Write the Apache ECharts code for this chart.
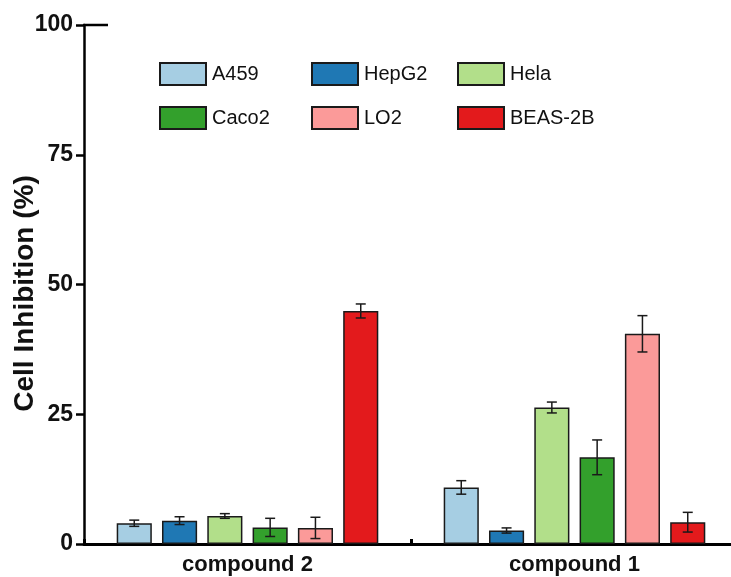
<!DOCTYPE html>
<html>
<head>
<meta charset="utf-8">
<script src="https://cdn.jsdelivr.net/npm/echarts@6/dist/echarts.min.js"></script>
<style>
html,body{margin:0;padding:0;background:#fff;}
#chart{width:731px;height:577px;}
</style>
</head>
<body>
<div id="chart"></div>
<script>
var categories = ['compound 2', 'compound 1'];
var seriesNames = ['A459', 'HepG2', 'Hela', 'Caco2', 'LO2', 'BEAS-2B'];
var seriesColors = ['#a6cee3', '#1f78b4', '#b2df8a', '#33a02c', '#fb9a99', '#e31a1c'];
var A459 = [4.0, 10.9];
var A459Err = [0.6, 1.3];
var HepG2 = [4.5, 2.6];
var HepG2Err = [0.75, 0.5];
var Hela = [5.4, 26.3];
var HelaErr = [0.45, 1.05];
var Caco2 = [3.2, 16.7];
var Caco2Err = [1.75, 3.35];
var LO2 = [3.1, 40.5];
var LO2Err = [2.05, 3.5];
var BEAS2B = [44.9, 4.2];
var BEAS2BErr = [1.35, 1.9];
var yTicks = [0, 25, 50, 75, 100];

var means = [A459, HepG2, Hela, Caco2, LO2, BEAS2B];
var errs = [A459Err, HepG2Err, HelaErr, Caco2Err, LO2Err, BEAS2BErr];

var CAT_GAP = 0.2, BAR_GAP = 0.29, N = seriesNames.length;
var FONT = 'Liberation Sans, Arial, sans-serif';

var series = [];
seriesNames.forEach(function (name, i) {
  series.push({
    name: name,
    type: 'bar',
    data: means[i],
    barCategoryGap: '20%',
    barGap: '29%',
    itemStyle: { color: seriesColors[i], borderColor: '#1a1a1a', borderWidth: 1.5 },
    z: 2
  });
});
seriesNames.forEach(function (name, i) {
  series.push({
    name: name + ' err',
    type: 'custom',
    z: 5,
    data: means[i].map(function (m, k) { return [k, m, errs[i][k]]; }),
    encode: { x: 0, y: 1 },
    renderItem: function (params, api) {
      var k = api.value(0), m = api.value(1), e = api.value(2);
      var band = api.size([1, 0])[0];
      var usable = band * (1 - CAT_GAP);
      var bw = usable / (N + (N - 1) * BAR_GAP);
      var off = -usable / 2 + bw / 2 + i * bw * (1 + BAR_GAP);
      var top = api.coord([k, m + e]);
      var bot = api.coord([k, m - e]);
      var x = top[0] + off;
      var cap = 5;
      var st = { stroke: '#1a1a1a', lineWidth: 1.5 };
      return {
        type: 'group',
        children: [
          { type: 'line', shape: { x1: x, y1: top[1], x2: x, y2: bot[1] }, style: st },
          { type: 'line', shape: { x1: x - cap, y1: top[1], x2: x + cap, y2: top[1] }, style: st },
          { type: 'line', shape: { x1: x - cap, y1: bot[1], x2: x + cap, y2: bot[1] }, style: st }
        ]
      };
    }
  });
});

function legendCol(names, left) {
  return {
    orient: 'vertical',
    left: left,
    top: 62,
    padding: 0,
    itemWidth: 46,
    itemHeight: 22,
    itemGap: 20,
    icon: 'rect',
    data: names,
    textStyle: { fontFamily: FONT, fontSize: 20, color: '#111', padding: [0, 0, 0, 1] }
  };
}

var chart = echarts.init(document.getElementById('chart'), null, { renderer: 'canvas' });
chart.setOption({
  animation: false,
  backgroundColor: '#fff',
  grid: { left: 84, top: 25, width: 654, height: 519, containLabel: false, outerBoundsMode: 'none' },
  legend: [
    legendCol([seriesNames[0], seriesNames[3]], 159),
    legendCol([seriesNames[1], seriesNames[4]], 311),
    legendCol([seriesNames[2], seriesNames[5]], 457)
  ],
  xAxis: {
    type: 'category',
    data: categories,
    axisLine: { lineStyle: { color: '#000', width: 3 } },
    axisTick: { show: true, inside: true, length: 5, lineStyle: { color: '#000', width: 3 } },
    axisLabel: { margin: 10, fontFamily: FONT, fontWeight: 'bold', fontSize: 22, color: '#111' }
  },
  yAxis: {
    type: 'value',
    min: 0,
    max: 100,
    interval: 25,
    name: 'Cell Inhibition (%)',
    nameLocation: 'middle',
    nameGap: 45,
    nameMoveOverlap: false,
    nameRotate: 90,
    nameTextStyle: { fontFamily: FONT, fontWeight: 'bold', fontSize: 28, color: '#111', padding: [0, 18, 0, 0] },
    splitLine: { show: false },
    axisLine: { show: true, lineStyle: { color: '#000', width: 2.5 } },
    axisTick: { show: true, inside: false, length: 8, lineStyle: { color: '#000', width: 2.5 } },
    axisLabel: {
      margin: 11,
      fontFamily: FONT, fontWeight: 'bold', fontSize: 23, color: '#111',
      formatter: function (v) { return yTicks.indexOf(v) >= 0 ? String(v) : ''; }
    }
  },
  graphic: [
    { type: 'line', shape: { x1: 83, y1: 25, x2: 108, y2: 25 }, style: { stroke: '#000', lineWidth: 2.5 } }
  ],
  series: series
});
</script>
</body>
</html>
